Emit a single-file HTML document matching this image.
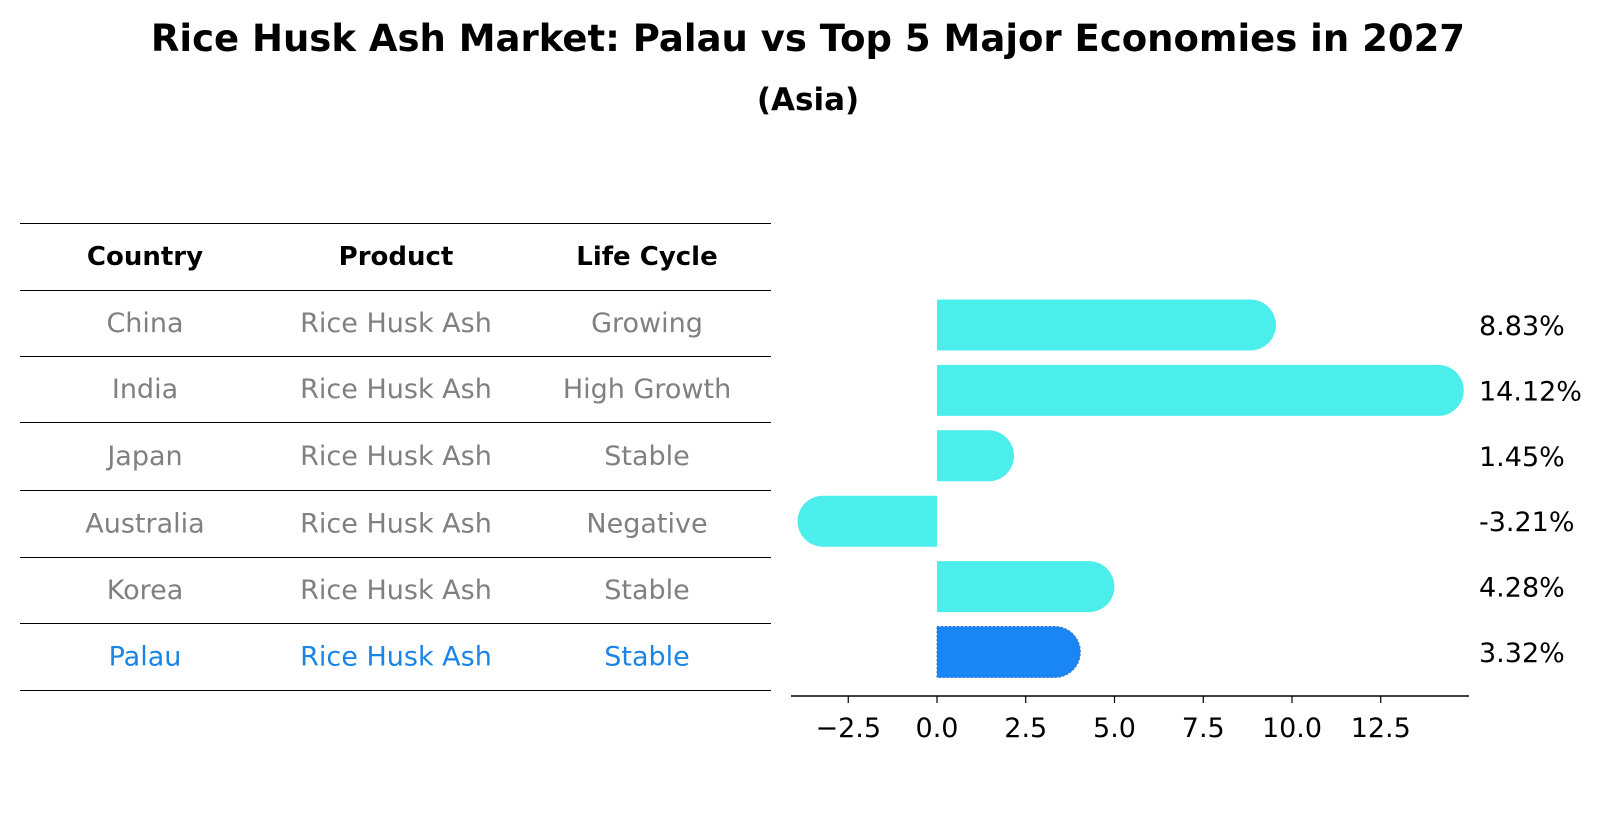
<!DOCTYPE html>
<html><head><meta charset="utf-8"><style>
body{margin:0;background:#fff;}
svg text{font-family:"DejaVu Sans","Liberation Sans",sans-serif;}
</style></head><body>
<svg width="1604" height="823" xmlns="http://www.w3.org/2000/svg">
<text x="808" y="51" text-anchor="middle" font-size="37" font-weight="bold">Rice Husk Ash Market: Palau vs Top 5 Major Economies in 2027</text>
<text x="808" y="110" text-anchor="middle" font-size="31" font-weight="bold">(Asia)</text>
<g id="table"></g>
<g id="bars"></g>
</svg>
<script>
const countries=["China","India","Japan","Australia","Korea","Palau"];
const products=["Rice Husk Ash","Rice Husk Ash","Rice Husk Ash","Rice Husk Ash","Rice Husk Ash","Rice Husk Ash"];
const lifeCycles=["Growing","High Growth","Stable","Negative","Stable","Stable"];
const growth=[8.83,14.12,1.45,-3.21,4.28,3.32];
const tickVals=[-2.5,0,2.5,5,7.5,10,12.5];
const tickLabels=["\u22122.5","0.0","2.5","5.0","7.5","10.0","12.5"];

const NS="http://www.w3.org/2000/svg";
function mk(t,a,p){const e=document.createElementNS(NS,t);for(const k in a)e.setAttribute(k,a[k]);p.appendChild(e);return e;}
const tbl=document.getElementById('table');
const lines=[223,290,356,422,490,557,623,690];
lines.forEach((y,i)=>{const l=mk('line',{x1:20,x2:771,y1:y+0.5,y2:y+0.5,stroke:'#000','stroke-width':1,'shape-rendering':'crispEdges'},tbl);

});
const colX=[145,396,647];
["Country","Product","Life Cycle"].forEach((h,i)=>{const t=mk('text',{x:colX[i],y:265,'text-anchor':'middle','font-size':26,'font-weight':'bold'},tbl);t.textContent=h;

});
countries.forEach((c,r)=>{const y=(lines[r+1]+lines[r+2])/2+9;const col=c==="Palau"?"#1a85e6":"#808080";
[c,products[r],lifeCycles[r]].forEach((v,i)=>{const t=mk('text',{x:colX[i],y:y,'text-anchor':'middle','font-size':27,fill:col},tbl);t.textContent=v;

});});

const g=document.getElementById('bars');
const x0=937,unit=35.5;const xs=v=>x0+v*unit;
const rowY=i=>325+i*65.4;const bh=51,rr=25.5;
growth.forEach((v,i)=>{const cy=rowY(i),top=cy-bh/2,xe=xs(v);const dir=v>=0?1:-1;
const d=`M${x0},${top} L${xe},${top} A${rr},${rr} 0 0 ${dir>0?1:0} ${xe},${top+bh} L${x0},${top+bh} Z`;
const last=countries[i]==="Palau";
const p=mk('path',{d:d,fill:last?'#1a85f5':'#4beeea',stroke:last?'#3070d0':'none','stroke-width':last?1:0,'stroke-dasharray':last?'2,2':''},g);


const t=mk('text',{x:1479,y:cy+10,'font-size':27},g);t.textContent=v.toFixed(2)+'%';

});
const ax=mk('line',{x1:791,x2:1469,y1:696,y2:696,stroke:'#000','stroke-width':1.5},g);


tickVals.forEach((v,i)=>{const tk=mk('line',{x1:xs(v),x2:xs(v),y1:696,y2:703,stroke:'#000','stroke-width':1.2},g);


const t=mk('text',{x:xs(v),y:737,'text-anchor':'middle','font-size':27},g);t.textContent=tickLabels[i];

});
</script>
</body></html>
